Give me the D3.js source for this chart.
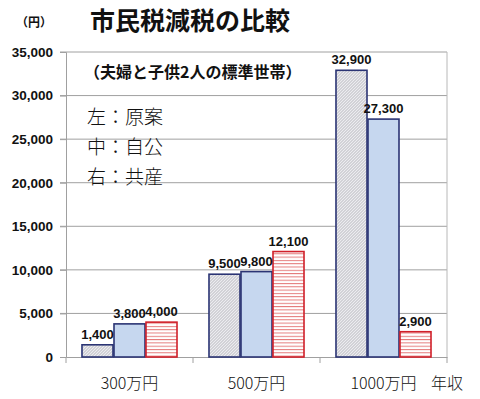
<!DOCTYPE html>
<html>
<head>
<meta charset="utf-8">
<script src="https://cdn.jsdelivr.net/npm/d3@7"></script>
<style>
  body { margin: 0; background: #fff; }
  svg { display: block; }
</style>
</head>
<body>
<svg id="chart" width="480" height="399"></svg>
<script>
// data
const categories = ["300万円", "500万円", "1000万円"];
const seriesNames = ["原案", "自公", "共産"];
const genan = [1400, 9500, 32900];
const jiko = [3800, 9800, 27300];
const kyosan = [4000, 12100, 2900];
const yTicks = [0, 5000, 10000, 15000, 20000, 25000, 30000, 35000];
const legendLines = ["左：原案", "中：自公", "右：共産"];

const series = [genan, jiko, kyosan];

const svg = d3.select("#chart");
const margin = { top: 52, right: 33, bottom: 42, left: 66 },
    width = 480 - margin.left - margin.right,
    height = 399 - margin.top - margin.bottom;

// patterns
const defs = svg.append("defs");
const diag = defs.append("pattern")
    .attr("id", "diag")
    .attr("patternUnits", "userSpaceOnUse")
    .attr("width", 3).attr("height", 3);
diag.append("rect").attr("width", 3).attr("height", 3).attr("fill", "#ececf0");
diag.append("path").attr("d", "M0,3 L3,0 M-1,1 L1,-1 M2,4 L4,2")
    .attr("stroke", "#a0a0a8").attr("stroke-width", 0.7);

const horiz = defs.append("pattern")
    .attr("id", "horiz")
    .attr("patternUnits", "userSpaceOnUse")
    .attr("width", 4).attr("height", 3.3);
horiz.append("rect").attr("width", 4).attr("height", 3.3).attr("fill", "#fff");
horiz.append("rect").attr("y", 0).attr("width", 4).attr("height", 1).attr("fill", "#e47a7a");

const fills = ["url(#diag)", "#c6d7ef", "url(#horiz)"];
const strokes = ["#2b3474", "#2b3474", "#d0202a"];

const g = svg.append("g").attr("transform", `translate(${margin.left},${margin.top})`);

const x0 = d3.scaleBand().domain(categories).range([0, width])
    .paddingInner(0.244).paddingOuter(0.122);
const x1 = d3.scaleBand().domain(seriesNames).range([0, x0.bandwidth()]);
const y = d3.scaleLinear().domain([0, 35000]).range([height, 0]);

const font = "'Liberation Sans Narrow', 'Liberation Sans', sans-serif";
const jp = "'Noto Sans CJK JP', sans-serif";

// gridlines
g.append("g")
    .selectAll("line")
    .data(yTicks.filter(d => d > 0))
    .enter().append("line")
    .attr("x1", -6).attr("x2", width)
    .attr("y1", d => y(d)).attr("y2", d => y(d))
    .attr("stroke", "#a0a0a0").attr("stroke-width", 1);

// right border
g.append("line")
    .attr("x1", width).attr("x2", width)
    .attr("y1", 0).attr("y2", height)
    .attr("stroke", "#b8b8b8");

// y axis
const yAxis = g.append("g")
    .call(d3.axisLeft(y).tickValues(yTicks).tickSize(6).tickFormat(d3.format(",")));
yAxis.select(".domain").attr("stroke", "#a0a0a0");
yAxis.selectAll(".tick line").attr("stroke", "#a0a0a0");
yAxis.selectAll("text")
    .attr("x", -13)
    .style("font-family", font)
    .style("font-weight", "bold")
    .style("font-size", "13.5px")
    .attr("fill", "#111");

// x axis
const xAxis = g.append("g")
    .attr("transform", `translate(0,${height})`)
    .call(d3.axisBottom(x0).tickSize(0).tickFormat(""));
xAxis.select(".domain").attr("stroke", "#a0a0a0");
g.append("g")
    .selectAll("line")
    .data(d3.range(categories.length + 1))
    .enter().append("line")
    .attr("x1", i => i * x0.step()).attr("x2", i => i * x0.step())
    .attr("y1", height).attr("y2", height + 6)
    .attr("stroke", "#a0a0a0");

g.append("g")
    .selectAll("text")
    .data(categories)
    .enter().append("text")
    .attr("x", d => x0(d) + x0.bandwidth() / 2)
    .attr("y", height + 32)
    .attr("text-anchor", "middle")
    .style("font-family", jp)
    .style("font-weight", 300)
    .style("font-size", "16px")
    .attr("fill", "#111")
    .text(d => d);

// bars
const groups = g.selectAll(".grp")
    .data(categories)
    .enter().append("g")
    .attr("class", "grp")
    .attr("transform", d => `translate(${x0(d)},0)`);

groups.selectAll("rect")
    .data((d, i) => seriesNames.map((s, k) => ({ s, k, v: series[k][i] })))
    .enter().append("rect")
    .attr("x", d => x1(d.s) + 0.5)
    .attr("width", x1.bandwidth() - 1)
    .attr("y", d => y(d.v))
    .attr("height", d => y(0) - y(d.v))
    .attr("fill", d => fills[d.k])
    .attr("stroke", d => strokes[d.k])
    .attr("stroke-width", 1.6);

groups.selectAll(".lbl")
    .data((d, i) => seriesNames.map((s, k) => ({ s, k, v: series[k][i] })))
    .enter().append("text")
    .attr("class", "lbl")
    .attr("x", d => x1(d.s) + x1.bandwidth() / 2)
    .attr("y", d => y(d.v) - 6)
    .attr("text-anchor", "middle")
    .style("font-family", font)
    .style("font-weight", "bold")
    .style("font-size", "13px")
    .attr("fill", "#111")
    .text(d => d3.format(",")(d.v));

// title and notes
svg.append("text")
    .attr("x", 90).attr("y", 30)
    .style("font-family", jp)
    .style("font-weight", "bold")
    .style("font-size", "25px")
    .attr("fill", "#111")
    .text("市民税減税の比較");

svg.append("text")
    .attr("x", 16).attr("y", 27)
    .style("font-family", jp)
    .style("font-weight", "bold")
    .style("font-size", "12px")
    .attr("fill", "#111")
    .text("（円）");

svg.append("text")
    .attr("x", 84).attr("y", 78)
    .style("font-family", jp)
    .style("font-weight", "bold")
    .style("font-size", "16px")
    .attr("fill", "#111")
    .text("（夫婦と子供2人の標準世帯）");

svg.append("g")
    .selectAll("text")
    .data(legendLines)
    .enter().append("text")
    .attr("x", 87)
    .attr("y", (d, i) => 124 + i * 30)
    .style("font-family", jp)
    .style("font-weight", 300)
    .style("font-size", "19px")
    .attr("fill", "#111")
    .text(d => d);

svg.append("text")
    .attr("x", 431).attr("y", 389)
    .style("font-family", jp)
    .style("font-weight", 300)
    .style("font-size", "16px")
    .attr("fill", "#111")
    .text("年収");
</script>
</body>
</html>
